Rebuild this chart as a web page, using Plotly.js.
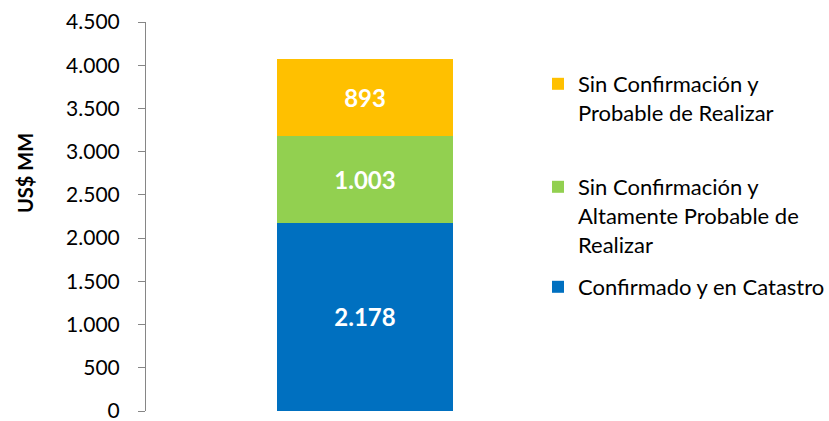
<!DOCTYPE html>
<html>
<head>
<meta charset="utf-8">
<script src="https://cdn.plot.ly/plotly-3.0.1.min.js"></script>
<style>html,body{margin:0;padding:0;background:#fff;}#chart{width:829px;height:421px;}</style>
</head>
<body>
<div id="chart"></div>
<script>
const categories = [""];
const seriesNames = ["Confirmado y en Catastro", "Sin Confirmación y<br>Altamente Probable de<br>Realizar", "Sin Confirmación y<br>Probable de Realizar"];
const confirmado = [2178];
const altamenteProbable = [1003];
const probable = [893];
const colors = ["#0070C0", "#92D050", "#FFC000"];
const yTicks = [0, 500, 1000, 1500, 2000, 2500, 3000, 3500, 4000, 4500];

const FONT = "Lato, 'Open Sans', sans-serif";
const values = [confirmado, altamenteProbable, probable];
const legendIds = ["legend3", "legend2", "legend"];

const traces = values.map((v, i) => ({
  type: "bar",
  x: categories,
  y: v,
  name: seriesNames[i],
  marker: {color: colors[i], line: {width: 0}},
  texttemplate: "%{y:,}",
  textposition: "inside",
  insidetextanchor: "middle",
  textangle: 0,
  textfont: {family: FONT, size: 24, color: "#ffffff", weight: "bold"},
  constraintext: "none",
  legend: legendIds[i],
  hoverinfo: "none"
}));

const plotTop = 22, plotBottom = 411, H = 421;
const ph = plotBottom - plotTop;
function py(px) { return (plotBottom - px) / ph; }
const legendBase = {
  xanchor: "left", yanchor: "top", valign: "top", bgcolor: "rgba(0,0,0,0)", borderwidth: 0,
  font: {family: FONT, size: 22, color: "#000"}, itemclick: false, itemdoubleclick: false
};
const lx = (538 - 146) / 438;

const layout = {
  width: 829, height: 421,
  margin: {l: 146, r: 245, t: plotTop, b: H - plotBottom, pad: 0, autoexpand: false},
  paper_bgcolor: "#ffffff", plot_bgcolor: "#ffffff",
  separators: ",.",
  barmode: "stack",
  bargap: 0.6,
  font: {family: FONT, size: 21, color: "#000"},
  xaxis: {range: [-0.5, 0.5], showline: false, showticklabels: false, ticks: "", showgrid: false, zeroline: false, fixedrange: true},
  yaxis: {range: [0, 4500], tickvals: yTicks, tickformat: ",", showline: true, linecolor: "#868686", linewidth: 1,
          ticks: "outside", ticklen: 7, tickcolor: "#868686", tickwidth: 1, showgrid: false, zeroline: false,
          tickfont: {family: FONT, size: 21, color: "#000"}, ticklabelstandoff: 14, ticklabeloverflow: "allow",
          fixedrange: true},
  legend: Object.assign({}, legendBase, {x: lx, y: py(63)}),
  legend2: Object.assign({}, legendBase, {x: lx, y: py(166)}),
  legend3: Object.assign({}, legendBase, {x: lx, y: py(266)}),
  annotations: [{
    text: "<b>US$ MM</b>", xref: "paper", yref: "paper", x: (25 - 146) / 438, y: py(173), xanchor: "center", yanchor: "middle",
    textangle: -90, showarrow: false, font: {family: FONT, size: 20, color: "#000"}
  }],
  showlegend: true
};

Plotly.newPlot("chart", traces, layout, {staticPlot: true, displayModeBar: false});
</script>
</body>
</html>
